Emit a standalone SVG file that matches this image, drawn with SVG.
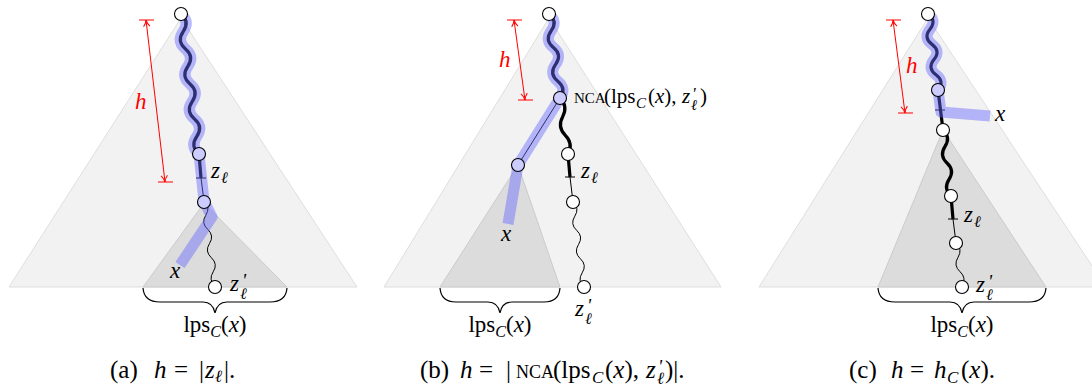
<svg xmlns="http://www.w3.org/2000/svg" width="1092" height="392" viewBox="0 0 1092 392">
<defs>
<style>
.big{fill:#f2f2f2;stroke:#dedede;stroke-width:1}
.inner{fill:#dcdcdc;stroke:#c4c4c4;stroke-width:0.8}
.thick{fill:none;stroke:#000;stroke-width:3.2;stroke-linejoin:round}
.thin{fill:none;stroke:#000;stroke-width:1}
.halo{fill:none;stroke:#6666ff;stroke-opacity:0.45;stroke-width:11;stroke-linejoin:round}
.nw{fill:#fff;stroke:#000;stroke-width:1.1}
.nb{fill:#ccccff;stroke:#000;stroke-width:1.1}
.red{fill:none;stroke:#ff0000;stroke-width:1}
.brace{fill:none;stroke:#000;stroke-width:1.2}
text{font-family:"Liberation Serif","Times New Roman",serif;fill:#000}
.m{font-size:23px;font-style:italic}
.sub{font-size:16px;font-style:italic}
.pr{font-size:19px;font-style:italic}
.hl{font-size:23px;font-style:italic;fill:#ff0000}
.lbl{font-size:23px}
.cap{font-size:25px}
.csub{font-size:17px;font-style:italic}
.i{font-style:italic}
</style>
<marker id="ar" viewBox="0 0 8 8" refX="7.5" refY="4" markerWidth="8" markerHeight="8" markerUnits="userSpaceOnUse" orient="auto-start-reverse">
<path d="M1,0.8 Q4,3.4 7.5,4 Q4,4.6 1,7.2" fill="none" stroke="#ff0000" stroke-width="1"/>
</marker>
</defs>

<g id="panel-a">
<polygon class="big" points="181,18 9,287 357,287"/>
<polygon class="inner" points="204,203 143,287 287,287"/>
</g>
<g id="panel-b">
<polygon class="big" points="549,18 384,287 721,287"/>
<polygon class="inner" points="518,165 440,287 560,287"/>
</g>
<g id="panel-c">
<polygon class="big" points="928,18 759,287 1106,287"/>
<polygon class="inner" points="943,130 878,287 1046,287"/>
</g>

<g id="connectors">
<path class="thick" d="M181 14 q9.06 7.73 2.25 17.5 t2.25 17.5 t2.25 17.5 t2.25 17.5 t2.25 17.5 t2.25 17.5 t2.25 17.5 t2.25 17.5"/>
<path class="thick" d="M199 154 L201 178"/>
<path class="thin" d="M201 178 L204 201 M196 178 L206 178"/>
<path class="thin" d="M204 201 q6.87 6.31 1.833 14.17 t1.833 14.17 t1.833 14.17 t1.833 14.17 t1.833 14.17 t1.833 14.17"/>
<path class="halo" d="M181 14 q9.06 7.73 2.25 17.5 t2.25 17.5 t2.25 17.5 t2.25 17.5 t2.25 17.5 t2.25 17.5 t2.25 17.5 t2.25 17.5 L204 201 L212 217 L180 265"/>
<path class="thick" d="M549 14 q9.03 7.36 2.2 16.8 t2.2 16.8 t2.2 16.8 t2.2 16.8 t2.2 16.8"/>
<path class="thin" d="M560 98 L518 165"/>
<path class="thick" d="M560 98 q8.26 8.34 2.667 18.667 t2.667 18.667 t2.667 18.667 L570 177"/>
<path class="thin" d="M570 177 L573 202 M565 177 L575 177"/>
<path class="thin" d="M573 202 q6.87 6.31 1.833 14.17 t1.833 14.17 t1.833 14.17 t1.833 14.17 t1.833 14.17 t1.833 14.17"/>
<path class="halo" d="M549 14 q9.03 7.36 2.2 16.8 t2.2 16.8 t2.2 16.8 t2.2 16.8 t2.2 16.8 L518 165 L508 224"/>
<path class="thick" d="M928 14 q8.93 6.56 2 15.2 t2 15.2 t2 15.2 t2 15.2 t2 15.2 L943 130"/>
<path class="thin" d="M935 110 L945 110"/>
<path class="thick" d="M943 130 q7.95 7.41 2 16.5 t2 16.5 t2 16.5 t2 16.5 L953 219"/>
<path class="thin" d="M953 219 L956 243 M948 219 L958 219"/>
<path class="thin" d="M956 243 q6.94 6.34 2 14.33 t2 14.33 t2 14.33"/>
<path class="halo" d="M928 14 q8.93 6.56 2 15.2 t2 15.2 t2 15.2 t2 15.2 t2 15.2 L941 112 L990 116"/>
<path class="red" d="M146 20 L165 182" marker-start="url(#ar)" marker-end="url(#ar)"/>
<path class="red" d="M139 20 L154 20 M158 182 L173 182"/>
<path class="red" d="M514 20 L525 100" marker-start="url(#ar)" marker-end="url(#ar)"/>
<path class="red" d="M507 20 L522 20 M518 100 L533 100"/>
<path class="red" d="M893 20 L905 113" marker-start="url(#ar)" marker-end="url(#ar)"/>
<path class="red" d="M886 20 L901 20 M898 113 L913 113"/>
<path class="brace" d="M143 288 Q144 302 160 302 L203 302 Q213 302 215 313 Q217 302 227 302 L270 302 Q286 302 287 288"/>
<path class="brace" d="M440 288 Q441 302 456 302 L488 302 Q498 302 500 313 Q502 302 512 302 L544 302 Q559 302 560 288"/>
<path class="brace" d="M878 288 Q879 302 895 302 L950 302 Q960 302 962 313 Q964 302 974 302 L1029 302 Q1045 302 1046 288"/>
</g>

<g id="a-root"><circle class="nw" cx="181" cy="14" r="6.5"/></g>
<g id="a-n1"><circle class="nb" cx="199" cy="154" r="6.5"/></g>
<g id="a-n2"><circle class="nb" cx="204" cy="202" r="6.5"/></g>
<g id="a-zl2"><circle class="nw" cx="215" cy="287" r="6.5"/></g>
<g id="b-root"><circle class="nw" cx="549" cy="14" r="6.5"/></g>
<g id="b-nca"><circle class="nb" cx="560" cy="98" r="6.5"/></g>
<g id="b-n1"><circle class="nb" cx="518" cy="165" r="6.5"/></g>
<g id="b-n2"><circle class="nw" cx="568" cy="154" r="6.5"/></g>
<g id="b-n3"><circle class="nw" cx="573" cy="202" r="6.5"/></g>
<g id="b-zl2"><circle class="nw" cx="584" cy="287" r="6.5"/></g>
<g id="c-root"><circle class="nw" cx="928" cy="14" r="6.5"/></g>
<g id="c-n1"><circle class="nb" cx="938" cy="90" r="6.5"/></g>
<g id="c-n2"><circle class="nw" cx="943" cy="130" r="6.5"/></g>
<g id="c-n3"><circle class="nw" cx="951" cy="196" r="6.5"/></g>
<g id="c-n4"><circle class="nw" cx="956" cy="243" r="6.5"/></g>
<g id="c-zl2"><circle class="nw" cx="962" cy="287" r="6.5"/></g>

<g id="a-labels">
<text class="hl" x="135" y="109">h</text>
<text class="m" x="211" y="178">z<tspan class="sub" x="221" y="183">ℓ</tspan></text>
<text class="m" x="170" y="278">x</text>
<text class="m" x="230" y="291">z<tspan class="pr" x="242" y="287">'</tspan><tspan class="sub" x="240" y="299">ℓ</tspan></text>
<text class="lbl" x="215" y="332" text-anchor="middle">lps<tspan class="sub" dy="5">C</tspan><tspan dy="-5">(</tspan><tspan class="i">x</tspan>)</text>
<text class="cap" x="110" y="378">(a)<tspan class="i" x="154">h</tspan><tspan x="174">=</tspan><tspan x="199">|</tspan><tspan class="i" x="205">z</tspan><tspan class="csub" x="215" y="382">ℓ</tspan><tspan x="224" y="378">|.</tspan></text>
</g>

<g id="b-labels">
<text class="hl" x="499" y="67">h</text>
<text x="574" y="103" style="font-size:21px"><tspan style="font-size:15px">NCA</tspan><tspan x="604">(lps</tspan><tspan class="sub" x="636" y="108" style="font-size:15px">C</tspan><tspan x="648" y="103">(</tspan><tspan class="i">x</tspan>),<tspan class="i" x="682">z</tspan><tspan class="pr" x="692" y="99" style="font-size:17px">'</tspan><tspan class="sub" x="691" y="110" style="font-size:15px">ℓ</tspan><tspan x="700" y="103">)</tspan></text>
<text class="m" x="581" y="178">z<tspan class="sub" x="591" y="183">ℓ</tspan></text>
<text class="m" x="501" y="241">x</text>
<text class="m" x="575" y="316">z<tspan class="pr" x="587" y="312">'</tspan><tspan class="sub" x="585" y="324">ℓ</tspan></text>
<text class="lbl" x="500" y="332" text-anchor="middle">lps<tspan class="sub" dy="5">C</tspan><tspan dy="-5">(</tspan><tspan class="i">x</tspan>)</text>
<text class="cap" x="420" y="378">(b)<tspan class="i" x="460">h</tspan><tspan x="479">=</tspan><tspan x="506">|</tspan><tspan x="516" style="font-size:18px">NCA</tspan><tspan x="553">(lps</tspan><tspan class="csub" x="592" y="383">C</tspan><tspan x="605" y="378">(</tspan><tspan class="i">x</tspan>),<tspan class="i" x="646">z</tspan><tspan class="pr" x="658" y="373">'</tspan><tspan class="csub" x="657" y="384">ℓ</tspan><tspan x="665" y="378">)|.</tspan></text>
</g>

<g id="c-labels">
<text class="hl" x="906" y="73">h</text>
<text class="m" x="995" y="121">x</text>
<text class="m" x="964" y="222">z<tspan class="sub" x="974" y="227">ℓ</tspan></text>
<text class="m" x="976" y="292">z<tspan class="pr" x="988" y="288">'</tspan><tspan class="sub" x="986" y="300">ℓ</tspan></text>
<text class="lbl" x="962" y="332" text-anchor="middle">lps<tspan class="sub" dy="5">C</tspan><tspan dy="-5">(</tspan><tspan class="i">x</tspan>)</text>
<text class="cap" x="849" y="378">(c)<tspan class="i" x="891">h</tspan><tspan x="910">=</tspan><tspan class="i" x="934">h</tspan><tspan class="csub" x="947" y="383">C</tspan><tspan x="961" y="378">(</tspan><tspan class="i">x</tspan>).</text>
</g>
</svg>
